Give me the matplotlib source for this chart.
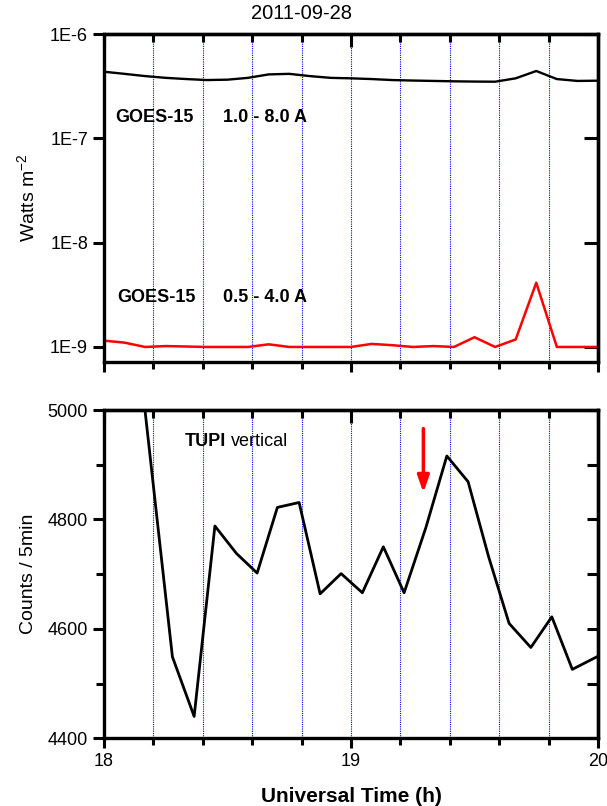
import numpy as np
import matplotlib
matplotlib.use("Agg")
import matplotlib.pyplot as plt
from matplotlib.ticker import MultipleLocator, FixedLocator, NullFormatter, FixedFormatter

plt.rcParams['font.family'] = ['Liberation Sans', 'DejaVu Sans']

# GOES-15 X-ray flux, 5-min samples from 18:00 to 20:00 UT
goes_t = 18 + np.arange(25) / 12
goes_long = [4.35e-7, 4.15e-7, 3.95e-7, 3.8e-7, 3.7e-7, 3.62e-7, 3.65e-7, 3.8e-7,
             4.1e-7, 4.15e-7, 3.95e-7, 3.8e-7, 3.76e-7, 3.7e-7, 3.62e-7, 3.58e-7,
             3.55e-7, 3.52e-7, 3.5e-7, 3.49e-7, 3.76e-7, 4.42e-7, 3.7e-7, 3.55e-7, 3.57e-7]
goes_short = [1.15e-9, 1.1e-9, 1.0e-9, 1.02e-9, 1.01e-9, 1.0e-9, 1.0e-9, 1.0e-9,
              1.06e-9, 1.0e-9, 1.0e-9, 1.0e-9, 1.0e-9, 1.07e-9, 1.04e-9, 1.0e-9,
              1.02e-9, 1.0e-9, 1.24e-9, 1.0e-9, 1.18e-9, 4.13e-9, 1.0e-9, 1.0e-9, 1.0e-9]

# TUPI vertical muon counts
tupi_t = [18.02, 18.107, 18.192, 18.277, 18.365, 18.449, 18.536, 18.62, 18.702,
          18.79, 18.875, 18.96, 19.046, 19.131, 19.215, 19.303, 19.388, 19.474,
          19.557, 19.64, 19.728, 19.813, 19.896, 20.0]
tupi_counts = [5400, 5240, 4894, 4549, 4440, 4788, 4738, 4702, 4822,
               4831, 4664, 4701, 4666, 4750, 4666, 4785, 4916, 4869,
               4732, 4610, 4566, 4622, 4526, 4550]

arrow_t = 19.293
arrow_top, arrow_tip = 4966, 4849

fig = plt.figure(figsize=(6.07, 8.06), dpi=100)
ax1 = fig.add_axes([0.1713, 0.5509, 0.8139, 0.4069])
ax2 = fig.add_axes([0.1713, 0.0840, 0.8139, 0.4073])

grid_x = np.arange(18.2, 19.9, 0.2)

for ax in (ax1, ax2):
    ax.set_xlim(18, 20)
    for g in grid_x:
        ax.axvline(g, color='blue', lw=0.8, ls=(0, (1, 1)), zorder=0)
    for s in ax.spines.values():
        s.set_linewidth(2.4)
    ax.xaxis.set_major_locator(MultipleLocator(1))
    ax.xaxis.set_minor_locator(MultipleLocator(0.2))
    ax.tick_params(axis='x', which='both', direction='out', top=False, width=2.2)
    ax.tick_params(axis='x', which='major', length=7)
    ax.tick_params(axis='x', which='minor', length=5)
    ax.tick_params(axis='y', which='both', direction='out', width=2.2, labelsize=13)
    ax.tick_params(axis='y', which='major', length=8)
    ax.tick_params(axis='y', which='minor', length=6)
    # inward ticks on top and right
    sec_x = ax.secondary_xaxis('top')
    sec_x.xaxis.set_major_locator(MultipleLocator(1))
    sec_x.xaxis.set_minor_locator(MultipleLocator(0.2))
    sec_x.tick_params(which='both', direction='in', labeltop=False, width=2.2)
    sec_x.tick_params(which='major', length=9)
    sec_x.tick_params(which='minor', length=6)
    sec_x.spines['top'].set_linewidth(2.4)

# top panel: GOES flux
ax1.plot(goes_t, goes_long, color='black', lw=1.7)
ax1.plot(goes_t, goes_short, color='red', lw=1.8)
ax1.set_yscale('log')
ax1.set_ylim(7.18e-10, 1e-6)
ax1.yaxis.set_major_locator(FixedLocator([1e-9, 1e-8, 1e-7, 1e-6]))
ax1.yaxis.set_major_formatter(FixedFormatter(['1E-9', '1E-8', '1E-7', '1E-6']))
ax1.yaxis.set_minor_locator(FixedLocator([]))
ax1.xaxis.set_major_formatter(NullFormatter())
ax1.set_ylabel(r'Watts m$^{\mathregular{-2}}$', fontsize=14, labelpad=8)
fig.text(0.497, 0.983, '2011-09-28', fontsize=14.5, ha='center', va='center')
sec_y1 = ax1.secondary_yaxis('right')
sec_y1.yaxis.set_major_locator(FixedLocator([1e-9, 1e-8, 1e-7, 1e-6]))
sec_y1.yaxis.set_minor_locator(FixedLocator([]))
sec_y1.tick_params(direction='in', labelright=False, length=10, width=2.2)
sec_y1.spines['right'].set_linewidth(2.4)
ax1.text(18.045, 1.6e-7, 'GOES-15', fontsize=13, fontweight='bold', va='center')
ax1.text(18.48, 1.6e-7, '1.0 - 8.0 A', fontsize=13, fontweight='bold', va='center')
ax1.text(18.055, 2.95e-9, 'GOES-15', fontsize=13, fontweight='bold', va='center')
ax1.text(18.48, 2.95e-9, '0.5 - 4.0 A', fontsize=13, fontweight='bold', va='center')

# bottom panel: TUPI counts
ax2.plot(tupi_t, tupi_counts, color='black', lw=2.0)
ax2.set_ylim(4400, 5000)
ax2.yaxis.set_major_locator(MultipleLocator(200))
ax2.yaxis.set_minor_locator(MultipleLocator(100))
ax2.set_xticks([18, 19, 20])
ax2.set_xticklabels(['18', '19', '20'], fontsize=13)
ax2.set_xlabel('Universal Time (h)', fontsize=15, fontweight='bold', labelpad=12)
ax2.set_ylabel('Counts / 5min', fontsize=14, labelpad=8)
sec_y2 = ax2.secondary_yaxis('right')
sec_y2.yaxis.set_major_locator(MultipleLocator(100))
sec_y2.tick_params(direction='in', labelright=False, length=8, width=2.2)
sec_y2.spines['right'].set_linewidth(2.4)
ax2.text(18.325, 4942, 'TUPI', fontsize=13, fontweight='bold', va='center')
ax2.text(18.515, 4942, 'vertical', fontsize=13, va='center')
ax2.annotate('', xy=(arrow_t, arrow_tip), xytext=(arrow_t, arrow_top),
             arrowprops=dict(arrowstyle='-|>,head_width=0.35,head_length=1.0',
                             color='red', lw=2.5, shrinkA=0, shrinkB=0))

fig.savefig('out.png', dpi=100)
